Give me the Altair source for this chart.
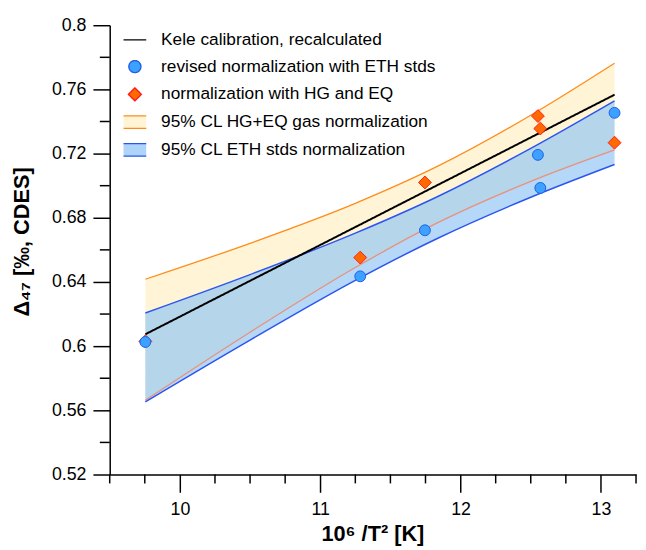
import altair as alt
import pandas as pd

SERIES = [
    "Kele calibration, recalculated",
    "revised normalization with ETH stds",
    "normalization with HG and EQ",
    "95% CL HG+EQ gas normalization",
    "95% CL ETH stds normalization",
]

# samples
sample_x = [9.754, 11.285, 11.746, 12.551, 12.568, 13.097]
eth_y = [0.6026, 0.6435, 0.6722, 0.7192, 0.6986, 0.7454]
hg_y = [0.6030, 0.6552, 0.7020, 0.7434, 0.7356, 0.7268]

# Kele calibration line
kele_x = [9.754, 13.097]
kele_y = [0.6074, 0.7567]

# confidence bands
band_x = [9.754, 10.5, 11.25, 11.834, 12.5, 13.097]
hg_hi = [0.6417, 0.6641, 0.6890, 0.7120, 0.7439, 0.7763]
hg_lo = [0.5663, 0.6087, 0.6490, 0.6768, 0.7027, 0.7223]
eth_hi = [0.6207, 0.6446, 0.6704, 0.6931, 0.7232, 0.7528]
eth_lo = [0.5653, 0.6038, 0.6410, 0.6671, 0.6928, 0.7132]

x_major = [10, 11, 12, 13]
x_minor = [9.5, 9.75, 10.25, 10.5, 10.75, 11.25, 11.5, 11.75, 12.25, 12.5,
           12.75, 13.25]
y_major = [0.52, 0.56, 0.6, 0.64, 0.68, 0.72, 0.76, 0.8]
y_minor = [0.54, 0.58, 0.62, 0.66, 0.70, 0.74, 0.78]

FONT = "Liberation Sans"
XTITLE = "10⁶ /T² [K]"
YTITLE = "Δ₄₇ [‰, CDES]"
PLOT_W = 533
PLOT_H = 455

df_pts_eth = pd.DataFrame({"x": sample_x, "y": eth_y, "series": SERIES[1]})
df_pts_hg = pd.DataFrame({"x": sample_x, "y": hg_y, "series": SERIES[2]})
df_kele = pd.DataFrame({"x": kele_x, "y": kele_y, "series": SERIES[0]})
df_hg_band = pd.DataFrame({"x": band_x, "y": hg_hi, "lo": hg_lo})
df_eth_band = pd.DataFrame({"x": band_x, "y": eth_hi, "lo": eth_lo})
df_xminor = pd.DataFrame({"x": x_minor})
df_yminor = pd.DataFrame({"y": y_minor})

xscale = alt.Scale(domain=[9.5, 13.25], nice=False, zero=False)
yscale = alt.Scale(domain=[0.52, 0.80], nice=False, zero=False)

xaxis_major = alt.Axis(
    orient="bottom", values=x_major, tickSize=18, labelPadding=8,
    labelExpr="'' + datum.value",
    labelOverlap=False, labelFlush=False,
    titleX=266, titleY=67, titleBaseline="alphabetic",
)
yaxis_major = alt.Axis(
    orient="left", values=y_major, tickSize=17, labelPadding=7,
    labelExpr="'' + datum.value",
    labelOverlap=False, labelFlush=False,
    titleX=-89, titleY=219, titleBaseline="middle",
)

X = alt.X("x:Q", scale=xscale, axis=None)
Y = alt.Y("y:Q", scale=yscale, axis=None)
YLO = alt.Y("lo:Q", scale=yscale, axis=None)

# legend glyphs, drawn in the unit box [-1, 1]
CIRCLE = "M0.53,0A0.53,0.53 0 1,1 -0.53,0A0.53,0.53 0 1,1 0.53,0Z"
DIAMOND = "M0,-0.57L0.57,0L0,0.57L-0.57,0Z"
BAND = "M-1,-0.55H1L1,0.55H-1"
LEG = alt.Legend(title=None)

fill_enc = alt.Fill("series:N", legend=LEG, scale=alt.Scale(
    domain=SERIES, range=["#000000", "#3DA2FF", "#FF6A00", "#FFF5D6", "#AED4F9"]))
stroke_enc = alt.Stroke("series:N", legend=LEG, scale=alt.Scale(
    domain=SERIES, range=["#000000", "#1F5FE8", "#FF1A1A", "#FF8C1A", "#2B55F0"]))
shape_enc = alt.Shape("series:N", legend=LEG, scale=alt.Scale(
    domain=SERIES, range=["stroke", CIRCLE, DIAMOND, BAND, BAND]))
dash_enc = alt.StrokeDash("series:N", legend=LEG, scale=alt.Scale(
    domain=SERIES, range=[[1, 0], [1, 0], [1, 0], [23, 12.65, 23], [23, 12.65, 23]]))

# minor axis ticks (positions through the axis scales)
x_minor_ticks = alt.Chart(df_xminor).mark_rule(color="#000000", strokeWidth=1.5).encode(
    x=X, y=alt.value(PLOT_H), y2=alt.value(PLOT_H + 9))
y_minor_ticks = alt.Chart(df_yminor).mark_rule(color="#000000", strokeWidth=1.5).encode(
    y=Y, x=alt.value(0), x2=alt.value(-10))

hg_area = alt.Chart(df_hg_band).mark_area(
    interpolate="monotone", color="#FFF5D6").encode(
    x=alt.X("x:Q", scale=xscale, axis=xaxis_major, title=XTITLE),
    y=alt.Y("y:Q", scale=yscale, axis=yaxis_major, title=YTITLE),
    y2="lo:Q")
eth_area = alt.Chart(df_eth_band).mark_area(
    interpolate="monotone", color="#8EC3F5", opacity=0.65).encode(
    x=X, y=Y, y2="lo:Q")

hg_hi_line = alt.Chart(df_hg_band).mark_line(
    interpolate="monotone", color="#FF8C1A", strokeWidth=1.3).encode(x=X, y=Y)
hg_lo_line = alt.Chart(df_hg_band).mark_line(
    interpolate="monotone", color="#E8917C", strokeWidth=1.3).encode(x=X, y=YLO)
eth_hi_line = alt.Chart(df_eth_band).mark_line(
    interpolate="monotone", color="#2B55F0", strokeWidth=1.5).encode(x=X, y=Y)
eth_lo_line = alt.Chart(df_eth_band).mark_line(
    interpolate="monotone", color="#2B55F0", strokeWidth=1.5).encode(x=X, y=YLO)

kele = alt.Chart(df_kele).mark_line(strokeWidth=2).encode(
    x=X, y=Y, stroke=stroke_enc, strokeDash=dash_enc)

diamonds = alt.Chart(df_pts_hg).mark_point(
    filled=True, strokeWidth=1, opacity=1, size=520
).encode(x=X, y=Y, fill=fill_enc, stroke=stroke_enc, shape=shape_enc)
circles = alt.Chart(df_pts_eth).mark_point(
    filled=True, strokeWidth=1, opacity=1, size=431
).encode(x=X, y=Y, fill=fill_enc, stroke=stroke_enc, shape=shape_enc)

chart = alt.layer(
    hg_area, eth_area, hg_hi_line, hg_lo_line, eth_hi_line, eth_lo_line,
    kele, diamonds, circles, x_minor_ticks, y_minor_ticks
).resolve_axis(x="independent", y="independent").properties(
    width=PLOT_W,
    height=PLOT_H,
    autosize=alt.AutoSizeParams(type="none"),
    padding={"left": 103, "top": 14, "right": 2, "bottom": 73},
).configure_view(stroke=None).configure_axis(
    grid=False,
    domainColor="#000000",
    domainWidth=1.5,
    tickColor="#000000",
    tickWidth=1.5,
    labelFont=FONT,
    labelFontSize=18,
    labelColor="#000000",
    titleFont=FONT,
    titleFontSize=22,
    titleFontWeight="bold",
    titleColor="#000000",
).configure_legend(
    orient="none",
    legendX=13,
    legendY=2.3,
    padding=0,
    symbolSize=529,
    symbolStrokeWidth=1.4,
    labelFont=FONT,
    labelFontSize=17.5,
    labelColor="#000000",
    labelOffset=14,
    rowPadding=6.1,
    labelLimit=500,
)

chart.save("out.html", embed_options={"renderer": "svg", "actions": False})
